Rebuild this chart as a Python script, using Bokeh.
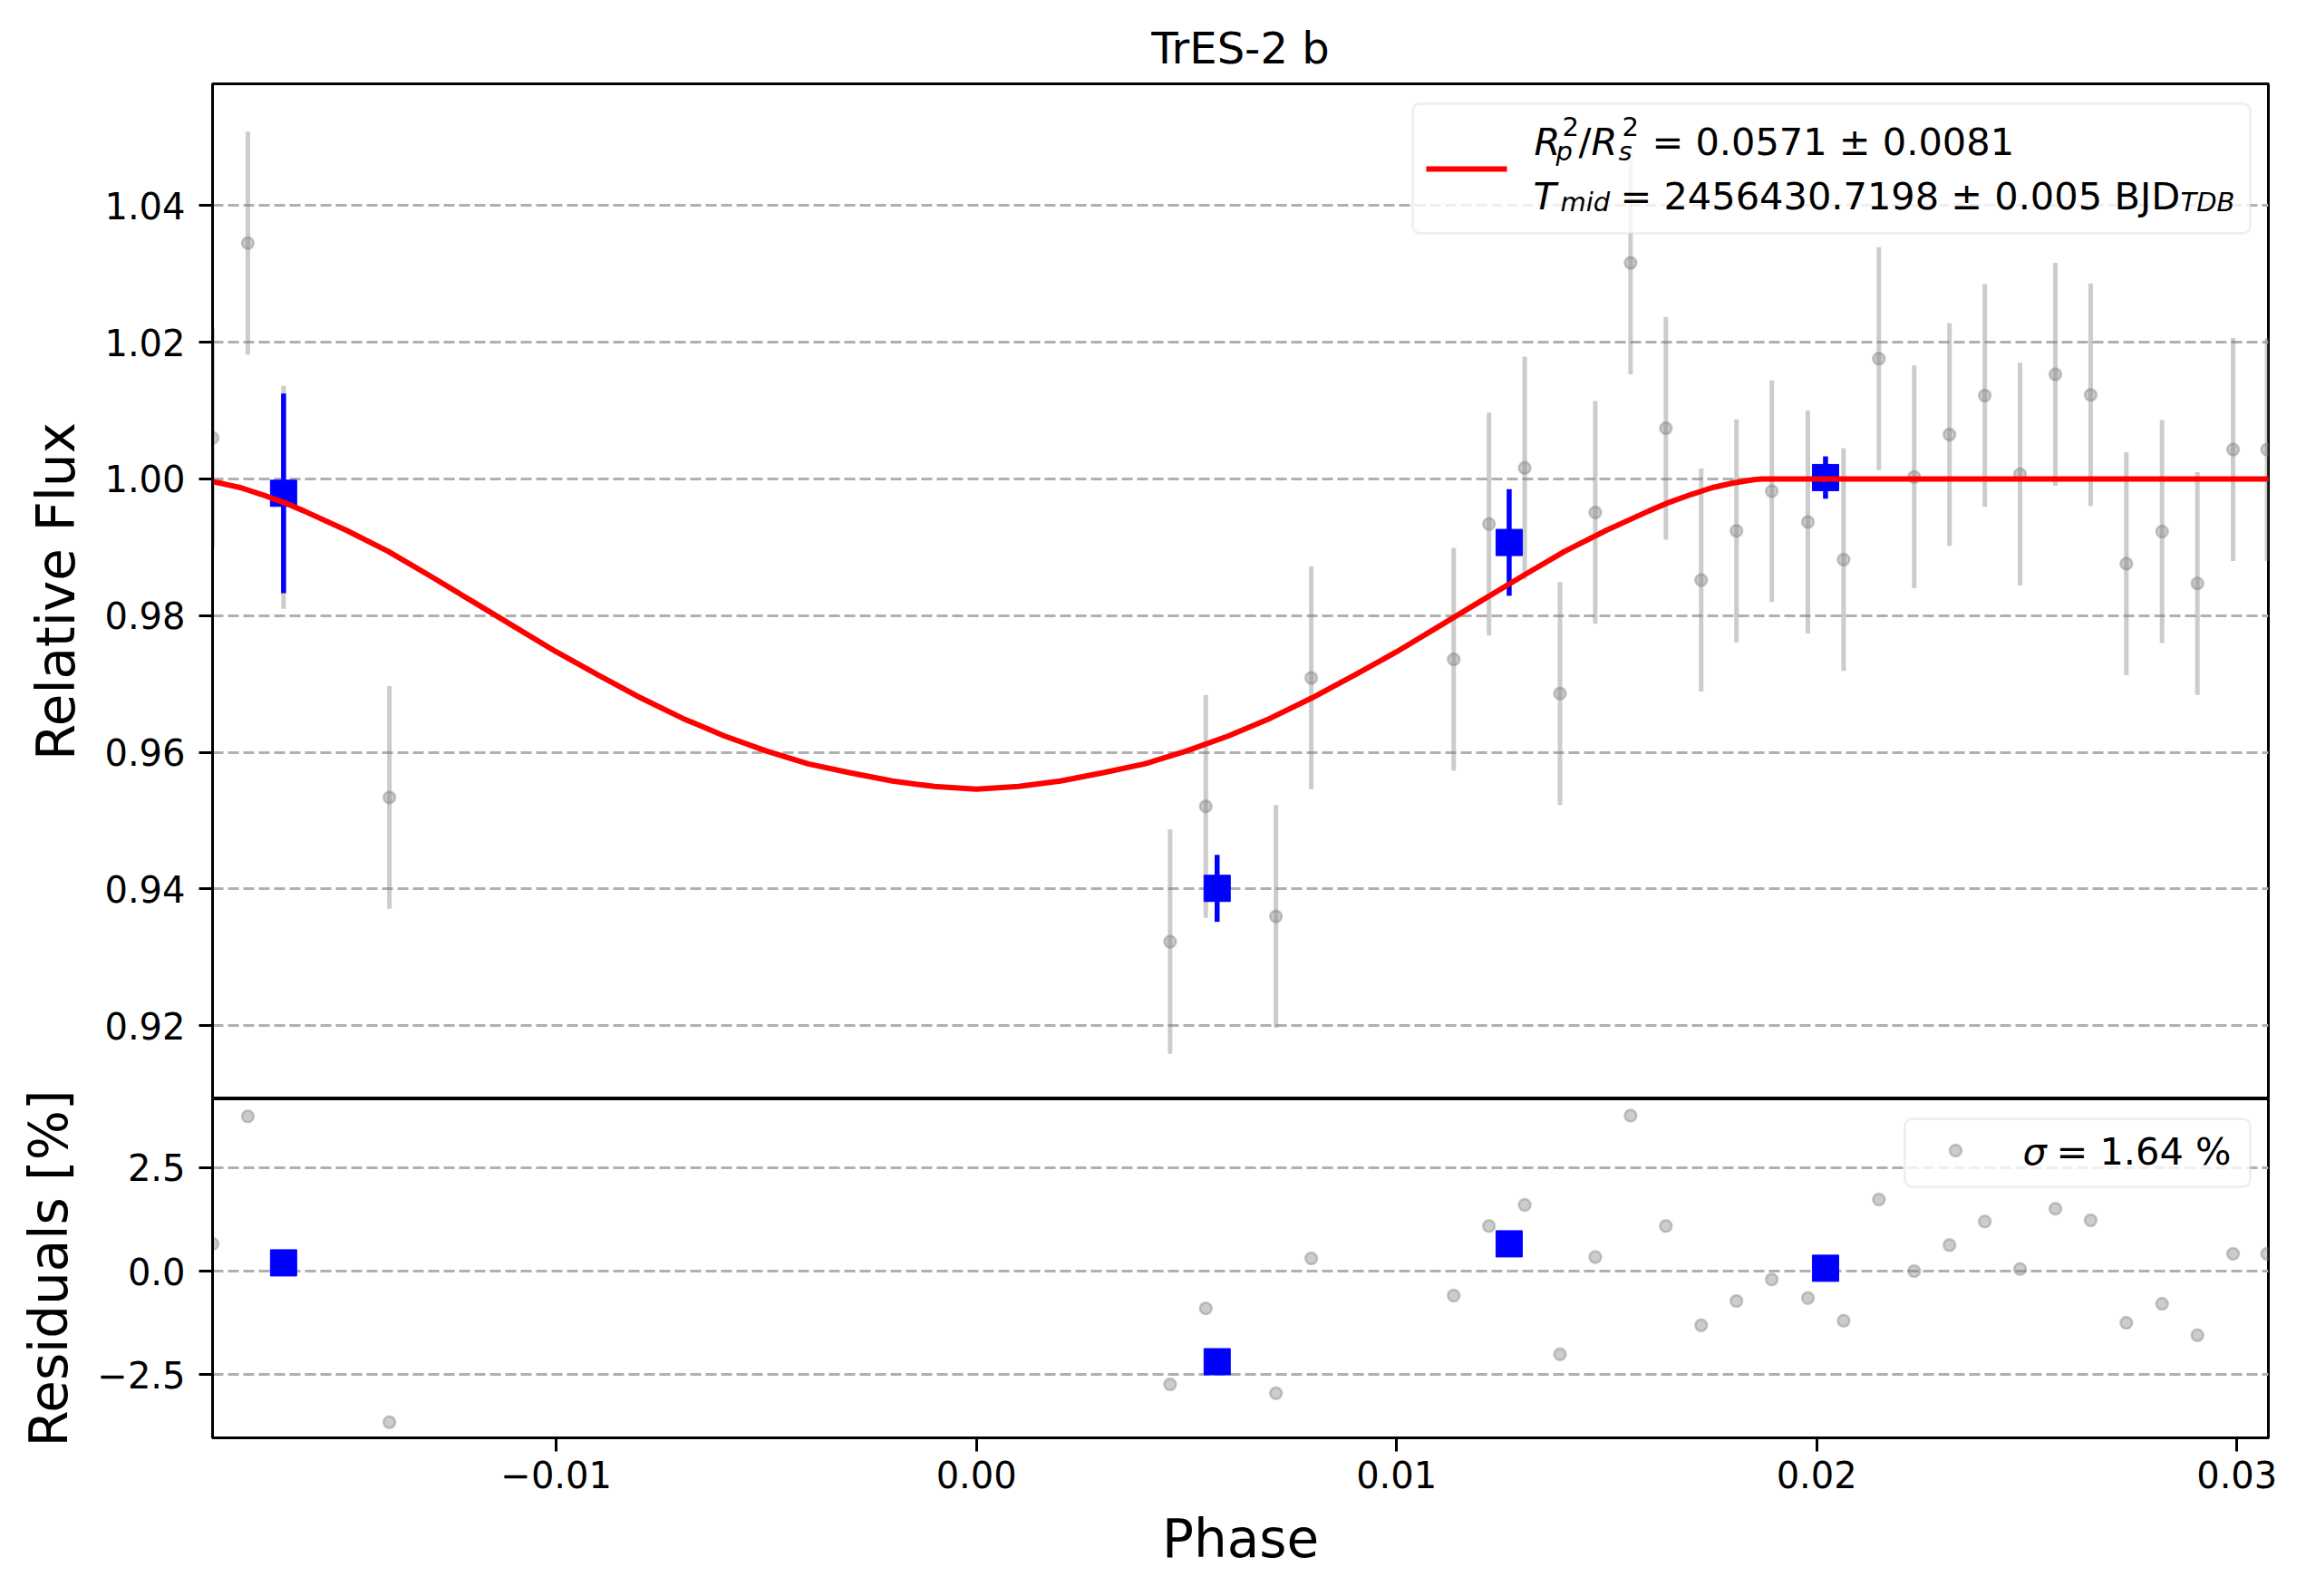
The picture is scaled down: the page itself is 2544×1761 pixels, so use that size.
# Light curve of TrES-2 b: phased photometry, binned points, model and residuals
from bokeh.plotting import figure
from bokeh.models import (ColumnDataSource, Range1d, FixedTicker, CustomJSTickFormatter,
                          BoxAnnotation, Label)
from bokeh.layouts import column
from bokeh.embed import file_html
from bokeh.resources import INLINE

FONT = "DejaVu Sans"

# ---- data ----
phase = [-0.01818, -0.01734, -0.01649, -0.01397, 0.00461, 0.00546, 0.00713, 0.00797,
         0.01136, 0.01220, 0.01305, 0.01389, 0.01473, 0.01557, 0.01641, 0.01725,
         0.01809, 0.01893, 0.01979, 0.02064, 0.02148, 0.02232, 0.02316, 0.02400,
         0.02484, 0.02568, 0.02652, 0.02737, 0.02822, 0.02906, 0.02991, 0.03072]
flux = [1.0060, 1.0345, 0.9973, 0.9534, 0.9323, 0.9521, 0.9360, 0.9709,
        0.9736, 0.9934, 1.0016, 0.9686, 0.9951, 1.0316, 1.0074, 0.9852,
        0.9924, 0.9982, 0.9937, 0.9882, 1.0176, 1.0003, 1.0065, 1.0122,
        1.0007, 1.0153, 1.0123, 0.9876, 0.9923, 0.9847, 1.0043, 1.0043]
flux_err = [0.0161, 0.0163, 0.0163, 0.0163, 0.0164, 0.0163, 0.0163, 0.0163,
            0.0163, 0.0163, 0.0163, 0.0163, 0.0163, 0.0163, 0.0163, 0.0163,
            0.0163, 0.0162, 0.0163, 0.0163, 0.0163, 0.0163, 0.0163, 0.0163,
            0.0163, 0.0163, 0.0163, 0.0163, 0.0163, 0.0163, 0.0163, 0.0163]
resid = [0.66, 3.74, 0.05, -3.65, -2.74, -0.90, -2.95, 0.31,
         -0.59, 1.09, 1.60, -2.01, 0.34, 3.76, 1.09, -1.31,
         -0.72, -0.20, -0.65, -1.20, 1.73, 0.00, 0.63, 1.20,
         0.05, 1.51, 1.23, -1.25, -0.79, -1.55, 0.42, 0.42]

bin_phase = [-0.01649, 0.00573, 0.01268, 0.02021]
bin_flux = [0.9979, 0.9401, 0.9907, 1.0002]
bin_err = [0.0146, 0.0049, 0.0078, 0.0031]
bin_resid = [0.20, -2.19, 0.66, 0.07]

model_phase = [-0.0187, -0.0185, -0.018, -0.0175, -0.017, -0.0165, -0.016, -0.015, -0.014,
               -0.013, -0.012, -0.011, -0.010, -0.009, -0.008, -0.007, -0.006, -0.005,
               -0.004, -0.003, -0.002, -0.001, 0.000, 0.001, 0.002, 0.003, 0.004, 0.005,
               0.006, 0.007, 0.008, 0.009, 0.010, 0.011, 0.012, 0.013, 0.014, 0.015,
               0.016, 0.0165, 0.017, 0.0175, 0.018, 0.0185, 0.0187, 0.031]
model_flux = [1.0000, 0.9999, 0.9994, 0.9987, 0.9977, 0.9966, 0.9953, 0.9925, 0.9894,
              0.9858, 0.9821, 0.9784, 0.9747, 0.9713, 0.9680, 0.9650, 0.9624, 0.9602,
              0.9583, 0.9570, 0.9558, 0.9550, 0.9546, 0.9550, 0.9558, 0.9570, 0.9583,
              0.9602, 0.9624, 0.9650, 0.9680, 0.9713, 0.9747, 0.9784, 0.9821, 0.9858,
              0.9894, 0.9925, 0.9953, 0.9966, 0.9977, 0.9987, 0.9994, 0.9999, 1.0000,
              1.0000]

x_ticks = [-0.01, 0.00, 0.01, 0.02, 0.03]
flux_ticks = [0.92, 0.94, 0.96, 0.98, 1.00, 1.02, 1.04]
resid_ticks = [-2.5, 0.0, 2.5]

# ---- layout (pixels) ----
B_LEFT, FW, B_RIGHT = 234, 2268, 20
B_TOP, FH1 = 92, 1120
FH2, B_BOTTOM = 374, 160
OVERLAP = 24   # residual canvas reaches up under the flux panel so its y label is not cut
X0, X1 = -0.01818, 0.03075
Y0, Y1 = 0.9093, 1.0578
R0, R1 = -4.03, 4.164

# picture pixel -> data helpers for the hand drawn legends
FL = B_LEFT
FT1 = B_TOP
FT2 = FT1 + FH1
BASE_FIX = 14  # labels sit a little low with an alphabetic baseline


def px_x(px):
    return X0 + (px - FL) / FW * (X1 - X0)


def px_top(py):
    return Y1 - (py - FT1) / FH1 * (Y1 - Y0)


def px_res(py):
    return R1 - (py - FT2) / FH2 * (R1 - R0)


src = ColumnDataSource(dict(x=phase, y=flux, r=resid,
                            lo=[f - e for f, e in zip(flux, flux_err)],
                            hi=[f + e for f, e in zip(flux, flux_err)]))
bsrc = ColumnDataSource(dict(x=bin_phase, y=bin_flux, r=bin_resid,
                             lo=[f - e for f, e in zip(bin_flux, bin_err)],
                             hi=[f + e for f, e in zip(bin_flux, bin_err)]))
msrc = ColumnDataSource(dict(x=model_phase, y=model_flux))


def style(p):
    p.background_fill_color = "white"
    p.border_fill_color = "white"
    p.outline_line_color = "black"
    p.outline_line_width = 3
    p.xgrid.visible = False
    p.ygrid.grid_line_color = "#b0b0b0"
    p.ygrid.grid_line_width = 3
    p.ygrid.grid_line_dash = "12 5"
    for ax in p.axis:
        ax.axis_line_color = "black"
        ax.axis_line_width = 3
        ax.major_tick_line_color = "black"
        ax.major_tick_line_width = 3
        ax.major_tick_out = 15
        ax.major_tick_in = 0
        ax.minor_tick_line_color = None
        ax.major_label_text_font = FONT
        ax.major_label_text_font_size = "40px"
        ax.major_label_text_color = "black"
        ax.major_label_standoff = 15
        ax.axis_label_text_font = FONT
        ax.axis_label_text_font_size = "58px"
        ax.axis_label_text_font_style = "normal"
        ax.axis_label_text_color = "black"


def txt(p, conv, px, py, s, size="41.5px", style_="normal"):
    p.add_layout(Label(x=px_x(px), y=conv(py - BASE_FIX), text=s, text_font=FONT,
                       text_font_size=size, text_font_style=style_, text_color="black",
                       text_baseline="alphabetic", text_align="left"))


# ---- top panel: relative flux ----
p1 = figure(frame_width=FW, frame_height=FH1, min_border_left=B_LEFT, min_border_right=B_RIGHT,
            min_border_top=B_TOP, min_border_bottom=0,
            x_range=Range1d(X0, X1), y_range=Range1d(Y0, Y1),
            output_backend="svg", toolbar_location=None, tools="")
p1.title.text = "TrES-2 b"
p1.title.align = "center"
p1.title.text_font = FONT
p1.title.text_font_size = "48px"
p1.title.text_font_style = "normal"
p1.title.text_color = "black"
p1.title.standoff = 23
style(p1)
p1.xaxis.visible = False
p1.yaxis.ticker = FixedTicker(ticks=flux_ticks)
p1.yaxis.formatter = CustomJSTickFormatter(code="return tick.toFixed(2);")
p1.yaxis.axis_label = "Relative Flux"
p1.yaxis.axis_label_standoff = 16

p1.segment("x", "lo", "x", "hi", source=src, line_color="gray", line_alpha=0.4, line_width=5)
p1.scatter("x", "y", source=src, marker="circle", size=13, fill_color="gray", fill_alpha=0.4,
           line_color="gray", line_alpha=0.4, line_width=2.5)
p1.segment("x", "lo", "x", "hi", source=bsrc, line_color="blue", line_width=5.5)
p1.scatter("x", "y", source=bsrc, marker="square", size=29, color="blue")
p1.line("x", "y", source=msrc, line_color="red", line_width=6)

# legend of the top panel, drawn by hand (math text)
p1.add_layout(BoxAnnotation(left=px_x(1558), right=px_x(2482), top=px_top(114), bottom=px_top(257),
                            fill_color="white", fill_alpha=0.8, line_color="#cccccc",
                            line_width=3, border_radius=8))
leg = p1.line([px_x(1573), px_x(1662)], [px_top(186), px_top(186)], line_color="red", line_width=6)
leg.level = "overlay"

txt(p1, px_top, 1692, 170, "R", style_="italic")
txt(p1, px_top, 1723, 153, "2", size="29px")
txt(p1, px_top, 1716, 180, "p", size="29px", style_="italic")
txt(p1, px_top, 1741, 170, "/")
txt(p1, px_top, 1755, 170, "R", style_="italic")
txt(p1, px_top, 1789, 153, "2", size="29px")
txt(p1, px_top, 1785, 180, "s", size="29px", style_="italic")
txt(p1, px_top, 1822, 170, "= 0.0571 \u00b1 0.0081")
txt(p1, px_top, 1691, 230, "T", style_="italic")
txt(p1, px_top, 1721, 236, "mid", size="29px", style_="italic")
txt(p1, px_top, 1787, 230, "= 2456430.7198 \u00b1 0.005")
txt(p1, px_top, 2332, 230, "BJD")
txt(p1, px_top, 2405, 236, "TDB", size="29px", style_="italic")

# ---- bottom panel: residuals ----
p2 = figure(frame_width=FW, frame_height=FH2, min_border_left=B_LEFT, min_border_right=B_RIGHT,
            min_border_top=OVERLAP, min_border_bottom=B_BOTTOM,
            x_range=Range1d(X0, X1), y_range=Range1d(R0, R1),
            output_backend="svg", toolbar_location=None, tools="",
            margin=(-OVERLAP, 0, 0, 0))
style(p2)
p2.border_fill_alpha = 0
p2.xaxis.ticker = FixedTicker(ticks=x_ticks)
p2.xaxis.formatter = CustomJSTickFormatter(
    code="return (tick < -1e-9 ? '\u2212' : '') + Math.abs(tick).toFixed(2);")
p2.xaxis.major_label_standoff = 10
p2.xaxis.axis_label = "Phase"
p2.xaxis.axis_label_standoff = 19
p2.yaxis.ticker = FixedTicker(ticks=resid_ticks)
p2.yaxis.formatter = CustomJSTickFormatter(
    code="return (tick < -1e-9 ? '\u2212' : '') + Math.abs(tick).toFixed(1);")
p2.yaxis.axis_label = "Residuals [%]"
p2.yaxis.axis_label_standoff = 16

p2.scatter("x", "r", source=src, marker="circle", size=13, fill_color="gray", fill_alpha=0.4,
           line_color="gray", line_alpha=0.4, line_width=2.5)
p2.scatter("x", "r", source=bsrc, marker="square", size=29, color="blue")

p2.add_layout(BoxAnnotation(left=px_x(2101), right=px_x(2482), top=px_res(1234), bottom=px_res(1309),
                            fill_color="white", fill_alpha=0.8, line_color="#cccccc",
                            line_width=3, border_radius=8))
dot = p2.scatter([px_x(2157)], [px_res(1269)], marker="circle", size=13, fill_color="gray",
                 fill_alpha=0.4, line_color="gray", line_alpha=0.4, line_width=2.5)
dot.level = "overlay"
txt(p2, px_res, 2231, 1284, "\u03c3", style_="italic")
txt(p2, px_res, 2268, 1284, "= 1.64 %")

page = column(p1, p2, spacing=0)
open("out.html", "w").write(file_html(page, INLINE, "TrES-2 b"))
